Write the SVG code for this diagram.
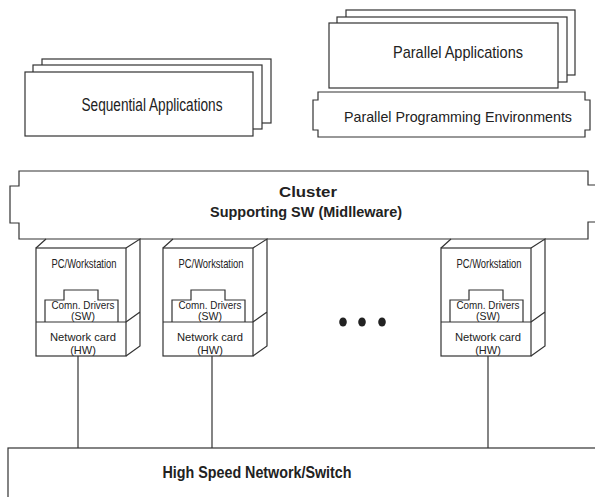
<svg xmlns="http://www.w3.org/2000/svg" width="595" height="497" viewBox="0 0 595 497">
<style>
.s{fill:#fff;stroke:#333;stroke-width:1.2}
.l{fill:none;stroke:#333;stroke-width:1.2}
.t{font-family:"Liberation Sans",Arial,sans-serif;fill:#222;text-anchor:middle}
.b{font-weight:bold}
</style>
<rect width="595" height="497" fill="#fff"/>
<g id="sequential-apps">
<rect class="s" x="42" y="59" width="229" height="64"/>
<rect class="s" x="33" y="65" width="229" height="64"/>
<rect class="s" x="25" y="72" width="228" height="64"/>
<text class="t" x="152" y="111" font-size="17.5" textLength="141" lengthAdjust="spacingAndGlyphs">Sequential Applications</text>
</g>
<g id="parallel-apps">
<rect class="s" x="346" y="10" width="229" height="65"/>
<rect class="s" x="337" y="17" width="230" height="65"/>
<rect class="s" x="329" y="23" width="229" height="65"/>
<text class="t" x="458" y="58" font-size="17" textLength="130" lengthAdjust="spacingAndGlyphs">Parallel Applications</text>
</g>
<g id="parallel-env">
<path class="s" d="M318,92 H585 V100 H590 V130 H585 V137 H318 V130 H313 V100 H318 Z"/>
<text class="t" x="458" y="122" font-size="15" textLength="228" lengthAdjust="spacingAndGlyphs">Parallel Programming Environments</text>
</g>
<g id="middleware">
<path class="s" d="M19,171 H588 V185 H600 V222 H588 V239 H19 V223 H10 V186 H19 Z"/>
<text class="t b" x="308" y="197" font-size="15" textLength="58" lengthAdjust="spacingAndGlyphs">Cluster</text>
<text class="t b" x="306" y="217" font-size="15.5" textLength="192" lengthAdjust="spacingAndGlyphs">Supporting SW (Midlleware)</text>
</g>
<g id="connectors">
<line class="l" x1="78" y1="356" x2="78" y2="448"/>
<line class="l" x1="212" y1="356" x2="212" y2="448"/>
<line class="l" x1="488" y1="356" x2="488" y2="448"/>
</g>
<g id="node-ws1" transform="translate(36,0)">
<rect class="s" x="0" y="248" width="90" height="108"/>
<path class="l" d="M0,248 L10,239 M90,248 L104,239 V346 L90,356 M90,322 L104,312 M0,322 H90"/>
<path class="l" d="M9,322 V300 H28 V290 H62 V300 H82 V322"/>
<text class="t" x="48" y="268" font-size="13" textLength="65" lengthAdjust="spacingAndGlyphs">PC/Workstation</text>
<text class="t" x="47" y="309" font-size="10.5" textLength="63" lengthAdjust="spacingAndGlyphs">Comn. Drivers</text>
<text class="t" x="47" y="320" font-size="10.5">(SW)</text>
<text class="t" x="47" y="341" font-size="11" textLength="66" lengthAdjust="spacingAndGlyphs">Network card</text>
<text class="t" x="47" y="354" font-size="11">(HW)</text>
</g>
<g id="node-ws2" transform="translate(163,0)">
<rect class="s" x="0" y="248" width="90" height="108"/>
<path class="l" d="M0,248 L10,239 M90,248 L104,239 V346 L90,356 M90,322 L104,312 M0,322 H90"/>
<path class="l" d="M9,322 V300 H28 V290 H62 V300 H82 V322"/>
<text class="t" x="48" y="268" font-size="13" textLength="65" lengthAdjust="spacingAndGlyphs">PC/Workstation</text>
<text class="t" x="47" y="309" font-size="10.5" textLength="63" lengthAdjust="spacingAndGlyphs">Comn. Drivers</text>
<text class="t" x="47" y="320" font-size="10.5">(SW)</text>
<text class="t" x="47" y="341" font-size="11" textLength="66" lengthAdjust="spacingAndGlyphs">Network card</text>
<text class="t" x="47" y="354" font-size="11">(HW)</text>
</g>
<g id="node-ws3" transform="translate(441,0)">
<rect class="s" x="0" y="248" width="90" height="108"/>
<path class="l" d="M0,248 L10,239 M90,248 L104,239 V346 L90,356 M90,322 L104,312 M0,322 H90"/>
<path class="l" d="M9,322 V300 H28 V290 H62 V300 H82 V322"/>
<text class="t" x="48" y="268" font-size="13" textLength="65" lengthAdjust="spacingAndGlyphs">PC/Workstation</text>
<text class="t" x="47" y="309" font-size="10.5" textLength="63" lengthAdjust="spacingAndGlyphs">Comn. Drivers</text>
<text class="t" x="47" y="320" font-size="10.5">(SW)</text>
<text class="t" x="47" y="341" font-size="11" textLength="66" lengthAdjust="spacingAndGlyphs">Network card</text>
<text class="t" x="47" y="354" font-size="11">(HW)</text>
</g>
<g id="ellipsis" fill="#222">
<ellipse cx="343" cy="322" rx="3.8" ry="4.5"/>
<ellipse cx="362" cy="322" rx="3.8" ry="4.5"/>
<ellipse cx="382" cy="322" rx="3.8" ry="4.5"/>
</g>
<g id="network">
<rect class="s" x="8" y="448" width="600" height="60"/>
<text class="t b" x="257" y="478" font-size="16" textLength="189" lengthAdjust="spacingAndGlyphs">High Speed Network/Switch</text>
</g>
</svg>
